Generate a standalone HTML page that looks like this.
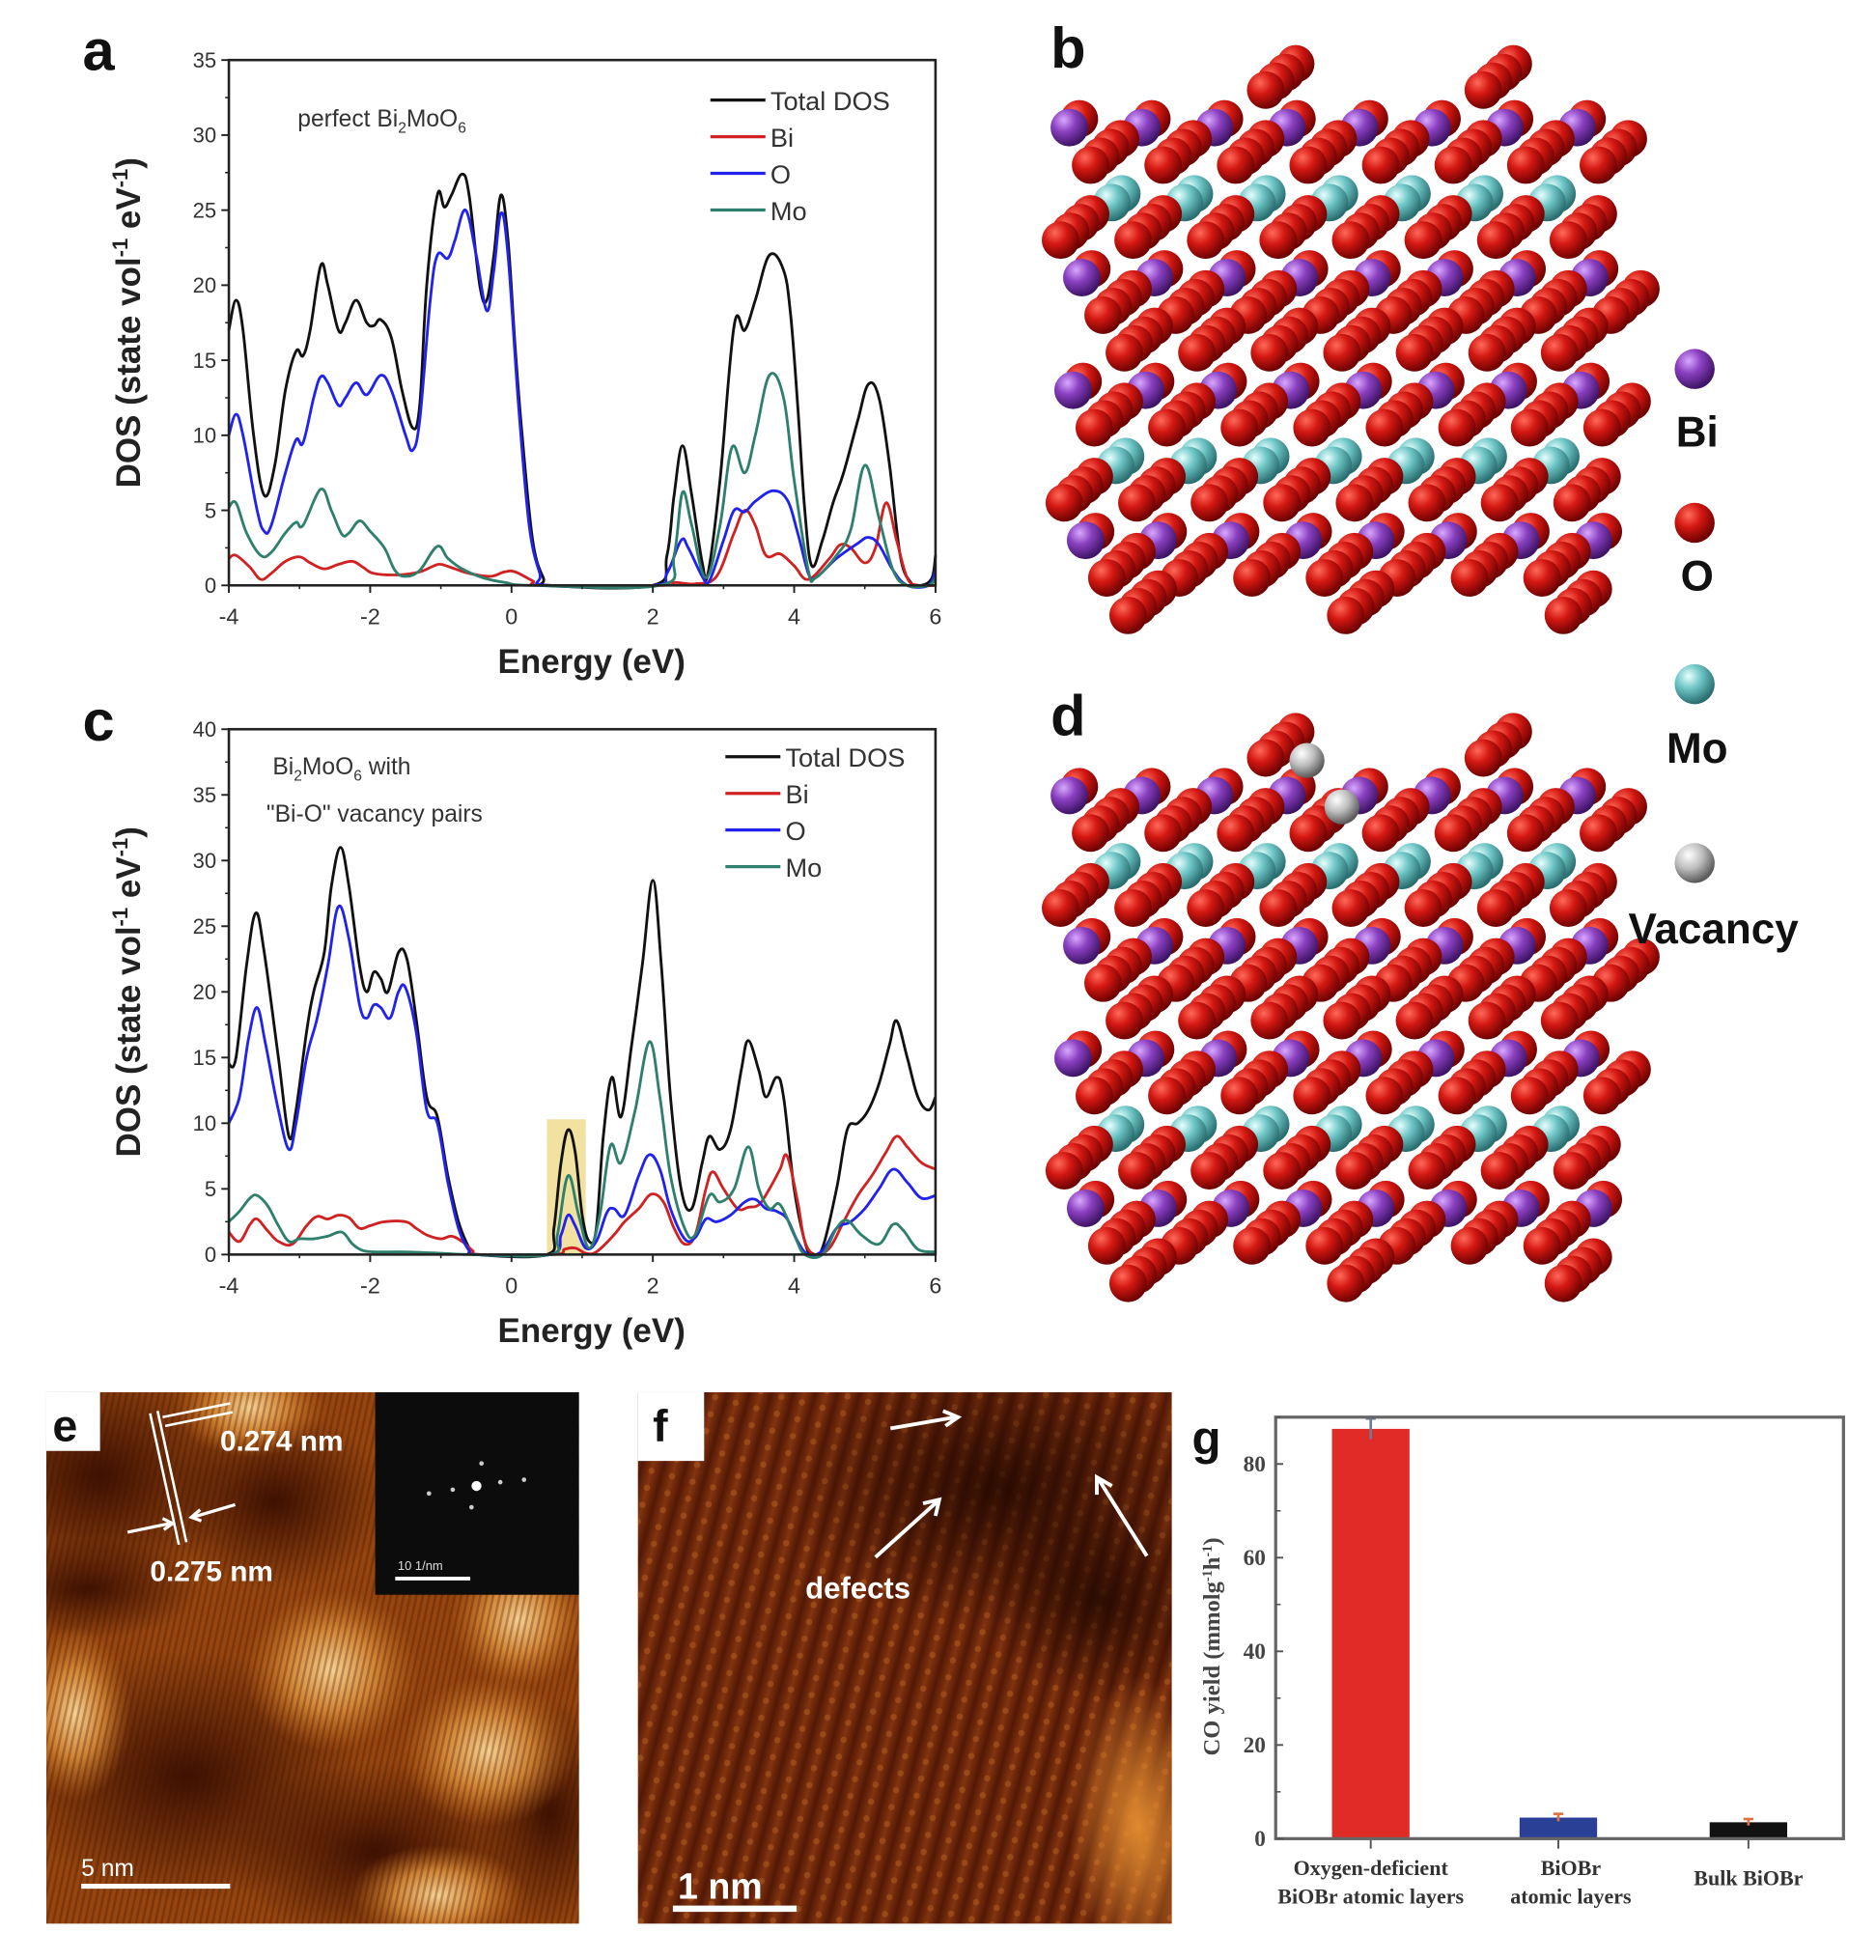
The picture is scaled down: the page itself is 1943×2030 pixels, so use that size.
<!DOCTYPE html>
<html><head><meta charset="utf-8"><style>
html,body{margin:0;padding:0;background:#fff;}
svg{display:block;}
</style></head><body>
<svg id="root" xmlns="http://www.w3.org/2000/svg" width="1943" height="2030" viewBox="0 0 1500 1567" preserveAspectRatio="none" font-family="Liberation Sans, sans-serif">
<defs>
<radialGradient id="gO" cx="35%" cy="30%" r="70%"><stop offset="0" stop-color="#ff6a5a"/><stop offset="0.45" stop-color="#d41812"/><stop offset="1" stop-color="#6e0202"/></radialGradient>
<radialGradient id="gBi" cx="35%" cy="30%" r="70%"><stop offset="0" stop-color="#d9a8ff"/><stop offset="0.45" stop-color="#8a40c0"/><stop offset="1" stop-color="#3f1466"/></radialGradient>
<radialGradient id="gMo" cx="35%" cy="30%" r="70%"><stop offset="0" stop-color="#e8ffff"/><stop offset="0.45" stop-color="#6fc6c6"/><stop offset="1" stop-color="#2a6e70"/></radialGradient>
<radialGradient id="gV" cx="35%" cy="30%" r="70%"><stop offset="0" stop-color="#ffffff"/><stop offset="0.5" stop-color="#bdbdbd"/><stop offset="1" stop-color="#5a5a5a"/></radialGradient>
<pattern id="stripesE" width="5" height="5" patternUnits="userSpaceOnUse" patternTransform="rotate(12)"><rect width="2" height="5" fill="rgba(60,20,0,0.3)"/></pattern>
<linearGradient id="stripeGrad" x1="0" x2="1" y1="0" y2="0"><stop offset="0" stop-color="#521805"/><stop offset="0.5" stop-color="#82340f"/><stop offset="1" stop-color="#521805"/></linearGradient>
<pattern id="stripesF" width="17" height="17" patternUnits="userSpaceOnUse" patternTransform="rotate(15)"><rect width="17" height="17" fill="url(#stripeGrad)"/></pattern>
<pattern id="dotsF" width="17" height="14" patternUnits="userSpaceOnUse" patternTransform="rotate(15)"><circle cx="8.5" cy="7" r="2.5" fill="#b05a20" opacity="0.55"/></pattern>
<radialGradient id="blob" cx="50%" cy="50%" r="50%"><stop offset="0" stop-color="#f8d090"/><stop offset="0.5" stop-color="#d98c3a" stop-opacity="0.9"/><stop offset="1" stop-color="#c06a1c" stop-opacity="0"/></radialGradient>
<radialGradient id="dark" cx="50%" cy="50%" r="50%"><stop offset="0" stop-color="#3e1002"/><stop offset="1" stop-color="#3e1002" stop-opacity="0"/></radialGradient>
<radialGradient id="darkF" cx="50%" cy="50%" r="50%"><stop offset="0" stop-color="#1e0600" stop-opacity="0.8"/><stop offset="1" stop-color="#1e0600" stop-opacity="0"/></radialGradient>
<radialGradient id="glowF" cx="50%" cy="50%" r="50%"><stop offset="0" stop-color="#e08a30"/><stop offset="1" stop-color="#e08a30" stop-opacity="0"/></radialGradient>
<clipPath id="clipE"><rect x="37" y="1113" width="426" height="425"/></clipPath>
<clipPath id="clipF"><rect x="510" y="1113" width="427" height="425"/></clipPath>
</defs>
<g id="layer"></g>
</svg>
<script>
// ===== Panel a data (perfect Bi2MoO6) =====
const aTotalE=[-4,-3.9,-3.8,-3.65,-3.5,-3.35,-3.2,-3.05,-2.95,-2.85,-2.7,-2.6,-2.45,-2.35,-2.2,-2.05,-1.95,-1.85,-1.7,-1.55,-1.4,-1.3,-1.2,-1.05,-0.95,-0.85,-0.7,-0.6,-0.45,-0.35,-0.25,-0.15,-0.05,0.05,0.15,0.3,0.45,0.55,2.0,2.2,2.3,2.42,2.55,2.7,2.78,2.95,3.15,3.3,3.45,3.65,3.85,3.95,4.05,4.15,4.25,4.4,4.55,4.7,4.9,5.05,5.2,5.35,5.5,5.65,5.8,5.95,6];
const aTotalV=[17,19,17,10,6,8,13,15.6,15.3,17,21.3,20,17,17.5,19,17.5,17.3,17.7,16.5,13,10.5,12,20,26,25.2,26,27.4,26,20,19,22,26,23,16,10,3,0.5,0,0,2,6,9.3,6,1.5,0.8,7,17.3,17,19,22,21,18,12,5,1.3,3,5.5,7.5,11,13.4,12.5,8,2,0.2,0,0.5,2];
const aBiE=[-4,-3.9,-3.7,-3.55,-3.4,-3.2,-3.0,-2.85,-2.65,-2.45,-2.25,-2.1,-1.95,-1.6,-1.3,-1.1,-1.0,-0.8,-0.6,-0.3,-0.1,0.05,0.3,0.45,2.1,2.3,2.6,2.9,3.15,3.3,3.45,3.6,3.8,4.0,4.2,4.5,4.65,4.8,5.0,5.15,5.3,5.45,5.6,5.75,6];
const aBiV=[1.8,2,1.2,0.4,0.8,1.6,1.9,1.5,1.1,1.4,1.6,1.2,0.8,0.7,0.9,1.3,1.4,1.1,0.8,0.6,0.9,0.9,0.3,0,0,0.2,0.1,0.6,3.5,5,4,2,2.1,1.3,0.4,1.8,2.7,2.5,1.5,2.5,5.5,3,0.5,0,0];
const aOE=[-4,-3.9,-3.8,-3.6,-3.5,-3.4,-3.2,-3.05,-2.95,-2.8,-2.7,-2.6,-2.45,-2.35,-2.2,-2.05,-1.85,-1.7,-1.5,-1.4,-1.3,-1.15,-1.05,-0.9,-0.8,-0.65,-0.5,-0.35,-0.25,-0.15,-0.05,0.1,0.25,0.4,0.5,2.0,2.2,2.4,2.5,2.7,2.8,3.0,3.15,3.3,3.45,3.7,3.9,4.05,4.2,4.3,4.6,4.9,5.05,5.2,5.4,5.6,5.9,6];
const aOV=[10,11.4,10,5,3.6,4,7.5,9.7,9.5,12.5,13.9,13.5,12,12.5,13.5,12.7,14,13,10,9,11,19,22,21.8,23,25,22,18.3,21,24.8,22,12,4,0.8,0,0,0.8,3,2.5,0.6,0.3,3,5,4.9,5.6,6.3,5.7,3.5,0.8,0.5,1.8,2.8,3.2,2.7,1,0,0,1];
const aMoE=[-4,-3.9,-3.75,-3.55,-3.4,-3.2,-3.05,-2.95,-2.7,-2.55,-2.4,-2.3,-2.15,-2.0,-1.8,-1.65,-1.5,-1.3,-1.05,-0.9,-0.7,-0.4,-0.1,0.3,2.1,2.3,2.42,2.55,2.75,2.95,3.12,3.3,3.45,3.65,3.85,4.0,4.2,4.3,4.6,4.8,5.0,5.2,5.4,5.6,5.9,6];
const aMoV=[5.2,5.5,3.5,2,2.2,3.5,4.2,4,6.4,5,3.4,3.5,4.3,3.6,2.5,1,0.6,1,2.6,1.8,1.1,0.5,0.2,0,0,2,6.2,4,0.5,4,9.2,7.5,10,14,12.5,7,1,0.5,2,3.7,8,4.5,1,0,0,0.5];
const aYTicks=[0,5,10,15,20,25,30,35];
const xTicks=[-4,-2,0,2,4,6];
// ===== Panel c data (with Bi-O vacancy pairs) =====
const cTotalE=[-4,-3.9,-3.75,-3.62,-3.5,-3.3,-3.15,-3.05,-2.9,-2.8,-2.65,-2.55,-2.42,-2.3,-2.15,-2.05,-1.95,-1.85,-1.75,-1.6,-1.48,-1.35,-1.2,-1.05,-0.9,-0.75,-0.6,-0.5,0.5,0.6,0.7,0.8,0.9,1.0,1.1,1.2,1.3,1.42,1.55,1.7,1.85,2.0,2.12,2.25,2.4,2.55,2.7,2.8,2.95,3.1,3.25,3.35,3.5,3.6,3.75,3.85,4.0,4.15,4.25,4.4,4.6,4.75,4.9,5.05,5.2,5.35,5.45,5.6,5.75,5.9,6.0];
const cTotalV=[14.5,15,22,26,23,15,9,11,17,20,23,28,31,28,22,20,21.5,21,20,23,22.5,18,12,10.5,6,2.5,0.5,0,0,2,7,9.5,7.8,3,1,2,9,13.5,10.5,16,22,28.5,22,12,5,3.5,7,9,8,9.5,14,16.3,14,12,13.5,12,5,1,0,0.5,5,9.5,10,11,13,16,17.8,15,12,11,12];
const cBiE=[-4,-3.85,-3.7,-3.6,-3.45,-3.3,-3.1,-2.9,-2.75,-2.6,-2.45,-2.3,-2.15,-2.0,-1.8,-1.5,-1.35,-1.2,-1.0,-0.85,-0.7,-0.55,-0.45,0.6,0.75,0.9,1.05,1.2,1.45,1.6,1.8,1.98,2.15,2.3,2.45,2.6,2.75,2.85,3.0,3.2,3.35,3.5,3.65,3.8,3.9,4.05,4.15,4.3,4.5,4.7,4.9,5.1,5.3,5.45,5.6,5.8,6];
const cBiV=[1.7,1,2.3,2.7,1.8,1,0.8,2.2,2.9,2.7,3,2.8,2,2.2,2.5,2.5,2,1.5,1.2,1.4,1,0.3,0,0,0.4,0.5,0.1,0.2,1.5,2.5,3.5,4.6,4,2,0.8,1.5,5,6.3,5,3.5,3.6,3.8,5,6.5,7.5,4,1,0,0.5,2.5,4.5,6,7.8,9,8.2,7,6.5];
const cOE=[-4,-3.85,-3.72,-3.6,-3.48,-3.3,-3.15,-3.05,-2.9,-2.75,-2.6,-2.45,-2.3,-2.15,-2.05,-1.95,-1.85,-1.72,-1.6,-1.5,-1.35,-1.2,-1.05,-0.9,-0.75,-0.6,-0.5,0.55,0.7,0.8,0.9,1.05,1.2,1.35,1.45,1.6,1.8,1.95,2.1,2.25,2.45,2.6,2.75,2.9,3.1,3.3,3.45,3.6,3.75,3.9,4.05,4.2,4.4,4.6,4.8,5.0,5.2,5.4,5.6,5.8,6];
const cOV=[10,12,16.5,18.8,16,11,8,10,15,18,22,26.5,24,19,18,19,18.8,18,20,20.3,17,11,10,5.5,2,0.3,0,0,1.5,3,2.2,0.5,1,3.2,3.5,3,6,7.6,6.5,3.5,1.2,1.3,2.7,2.5,3,4,4.2,3.5,3.3,2.7,1,0,0.3,2,2.5,3.5,5,6.5,5.5,4.3,4.5];
const cMoE=[-4,-3.85,-3.7,-3.6,-3.45,-3.3,-3.15,-3.0,-2.8,-2.6,-2.4,-2.25,-2.1,-1.9,-1.5,-1.0,-0.6,0.55,0.65,0.8,0.95,1.1,1.25,1.4,1.55,1.75,1.95,2.1,2.25,2.45,2.6,2.8,2.95,3.15,3.35,3.5,3.65,3.8,4.0,4.15,4.4,4.6,4.75,4.95,5.2,5.4,5.55,5.75,6];
const cMoV=[2.5,3.3,4.3,4.5,3.7,2.2,1,1.2,1.2,1.4,1.7,0.8,0.3,0.2,0.2,0.1,0,0,1.5,6,3,0.5,3,8.3,7,11,16.2,12,6,2,1.5,4.5,4,5,8.2,5,3.5,3.8,1.5,0,0,2,2.6,1.5,0.8,2.3,1.8,0.4,0.2];
const cYTicks=[0,5,10,15,20,25,30,35,40];
// ===== Panel g data =====
const gCategories=[["Oxygen-deficient","BiOBr atomic layers"],["BiOBr","atomic layers"],["Bulk BiOBr"]];
const gValues=[87.5,4.5,3.5];
const gErrors=[2.2,0.8,0.7];
const gColors=["#e02b26","#2a3f96","#111111"];
const gYTicks=[0,20,40,60,80];

const NS="http://www.w3.org/2000/svg";
const layer=document.getElementById('layer');
function mk(tag,attrs,parent,txt){const e=document.createElementNS(NS,tag);for(const k in attrs)e.setAttribute(k,attrs[k]);if(txt!==undefined)e.textContent=txt;(parent||layer).appendChild(e);return e;}
function smooth(pts){let d='M'+pts[0][0].toFixed(1)+','+pts[0][1].toFixed(1);for(let i=0;i<pts.length-1;i++){const p0=pts[Math.max(0,i-1)],p1=pts[i],p2=pts[i+1],p3=pts[Math.min(pts.length-1,i+2)];const t=0.18;d+=' C'+(p1[0]+(p2[0]-p0[0])*t).toFixed(1)+','+(p1[1]+(p2[1]-p0[1])*t).toFixed(1)+' '+(p2[0]-(p3[0]-p1[0])*t).toFixed(1)+','+(p2[1]-(p3[1]-p1[1])*t).toFixed(1)+' '+p2[0].toFixed(1)+','+p2[1].toFixed(1);}return d;}

function dosPanel(cfg){
  const g=mk('g',{});
  
  
  const L=183,R=748,T=cfg.top,B=cfg.bottom;
  const xs=e=>L+(e+4)/10*(R-L);
  const ys=v=>B-v/cfg.ymax*(B-T);
  if(cfg.highlight){const h=mk('rect',{x:xs(0.5),y:ys(10.3),width:xs(1.05)-xs(0.5),height:B-ys(10.3),fill:'#eedd90',opacity:0.85},g);
    
    }
  const series=cfg.series;
  series.forEach(s=>{const p=mk('path',{d:smooth(s.e.map((e,i)=>[xs(e),ys(s.v[i])])),fill:'none',stroke:s.c,'stroke-width':2.2,'stroke-linejoin':'round'},g);
    
    });
  const box=mk('rect',{x:L,y:T,width:R-L,height:B-T,fill:'none',stroke:'#222','stroke-width':2},g);
  
  
  cfg.yt.forEach(v=>{mk('line',{x1:L-6,x2:L,y1:ys(v),y2:ys(v),stroke:'#222','stroke-width':1.5},g);
    if(v<cfg.ymax)mk('line',{x1:L-3,x2:L,y1:ys(v+2.5),y2:ys(v+2.5),stroke:'#222','stroke-width':1.2},g);
    const t=mk('text',{x:L-10,y:ys(v)+6,'text-anchor':'end','font-size':17,fill:'#333'},g,String(v));
    
    });
  xTicks.forEach(v=>{mk('line',{x1:xs(v),x2:xs(v),y1:B,y2:B+6,stroke:'#222','stroke-width':1.5},g);
    if(v<6)mk('line',{x1:xs(v+1),x2:xs(v+1),y1:B,y2:B+3,stroke:'#222','stroke-width':1.2},g);
    const t=mk('text',{x:xs(v),y:B+31,'text-anchor':'middle','font-size':18,fill:'#333'},g,String(v));
    
    });
  const xt=mk('text',{x:473,y:B+70,'text-anchor':'middle','font-size':27,'font-weight':'bold',fill:'#222'},g,'Energy (eV)');
  
  
  const yt=mk('text',{x:0,y:0,transform:'translate(112,'+((T+B)/2)+') rotate(-90)','text-anchor':'middle','font-size':27,'font-weight':'bold',fill:'#222'},g);
  
  
  yt.innerHTML='DOS (state vol<tspan dy="-10" font-size="17">-1</tspan><tspan dy="10"> eV</tspan><tspan dy="-10" font-size="17">-1</tspan><tspan dy="10">)</tspan>';
  const lab=mk('text',{x:cfg.labx,y:cfg.laby,'font-size':46,'font-weight':'bold',fill:'#111'},g,cfg.letter);
  
  
  series.forEach((s,i)=>{const y=cfg.legY+i*29.3;
    mk('line',{x1:cfg.legX,x2:cfg.legX+44,y1:y,y2:y,stroke:s.c,'stroke-width':2.5},g);
    const t=mk('text',{x:cfg.legX+48,y:y+8,'font-size':21,fill:'#333'},g,s.n);
    
    });
  return {g,xs,ys};
}
const A=dosPanel({name:'dos-chart-a',letter:'a',labx:66,laby:56,top:48,bottom:468,ymax:35,yt:aYTicks,legX:568,legY:80,
  series:[{n:'Total DOS',c:'#111',e:aTotalE,v:aTotalV},{n:'Bi',c:'#d02222',e:aBiE,v:aBiV},{n:'O',c:'#2222ee',e:aOE,v:aOV},{n:'Mo',c:'#2e7f6c',e:aMoE,v:aMoV}]});
const an=mk('text',{x:238,y:101,'font-size':19,fill:'#333'},A.g);


an.innerHTML='perfect Bi<tspan dy="5" font-size="12">2</tspan><tspan dy="-5">MoO</tspan><tspan dy="5" font-size="12">6</tspan>';
const C=dosPanel({name:'dos-chart-c',letter:'c',labx:66,laby:592,top:583,bottom:1003,ymax:40,yt:cYTicks,legX:580,legY:605,highlight:true,
  series:[{n:'Total DOS',c:'#111',e:cTotalE,v:cTotalV},{n:'Bi',c:'#d02222',e:cBiE,v:cBiV},{n:'O',c:'#2222ee',e:cOE,v:cOV},{n:'Mo',c:'#2e7f6c',e:cMoE,v:cMoV}]});
const cn=mk('text',{x:218,y:619,'font-size':19,fill:'#333'},C.g);


cn.innerHTML='Bi<tspan dy="5" font-size="12">2</tspan><tspan dy="-5">MoO</tspan><tspan dy="5" font-size="12">6</tspan><tspan dy="-5"> with</tspan>';
const cn2=mk('text',{x:213,y:657,'font-size':19,fill:'#333'},C.g,'"Bi-O" vacancy pairs');



// ===== Crystal structures b, d =====
function crystal(name,x0,y0,letter,vac){
  const g=mk('g',{});
  
  
  const rows=['O','Bi','O','Mo','O','Bi','O','O','Bi','O','Mo','O','Bi','O','O'];
  const cols=8, stepX=58, stepY=30;
  for(let r=0;r<rows.length;r++){
    for(let c=0;c<cols;c++){
      const bx=x0+c*stepX+((r*17)%58)-10, by=y0+r*stepY+10;
      if(bx<x0-5||bx>x0+440) continue;
      if(r===0 && c%3!==0) continue;
      if(r===14 && c%3!==1) continue;
      const t=rows[r];
      const n=(t==='O')?4:2;
      for(let k=n-1;k>=0;k--){
        const cx=bx+k*8, cy=by-k*7;
        const col=(t==='Bi'&&k>0)?'O':t;
        mk('circle',{cx:cx,cy:cy,r:15,fill:'url(#g'+col+')'},g);
      }
    }
  }
  if(vac){vac.forEach(p=>mk('circle',{cx:p[0],cy:p[1],r:14,fill:'url(#gV)'},g));}
  const lab=mk('text',{x:x0-8,y:y0-8,'font-size':46,'font-weight':'bold',fill:'#111'},g,letter);
  
  
}
crystal('crystal-structure-b',848,62,'b',null);
crystal('crystal-structure-d',848,596,'d',[[1045,608],[1073,645]]);
const elemLegend=[['Bi','gBi',295,345],['O','gO',418,460],['Mo','gMo',547,598],['Vacancy','gV',690,742]];
elemLegend.forEach(l=>{const c=mk('circle',{cx:1355,cy:l[2],r:16,fill:'url(#'+l[1]+')'});
  
  
  const t=mk('text',{x:l[0]==='Vacancy'?1370:1357,y:l[3]+12,'text-anchor':'middle','font-size':34,'font-weight':'bold',fill:'#111'},null,l[0]);
  
  });

// ===== Panel e (HRTEM) =====
(function(){
  const g=mk('g',{'clip-path':'url(#clipE)'});
  
  
  mk('rect',{x:37,y:1113,width:426,height:425,fill:'#96450f'},g);
  [[80,1180,110,90],[150,1420,140,100],[300,1480,120,70],[440,1450,60,90],[220,1200,90,70],[70,1270,90,40]].forEach(b=>mk('ellipse',{cx:b[0],cy:b[1],rx:b[2],ry:b[3],fill:'url(#dark)'},g));
  [[60,1370,45,70],[265,1335,70,65],[415,1295,55,55],[390,1400,70,60],[200,1125,60,40],[350,1515,70,40]].forEach(b=>mk('ellipse',{cx:b[0],cy:b[1],rx:b[2],ry:b[3],fill:'url(#blob)'},g));
  mk('rect',{x:37,y:1113,width:426,height:425,fill:'url(#stripesE)'},g);
  const ins=mk('rect',{x:300,y:1113,width:163,height:162,fill:'#0c0c0c'},g);
  
  
  mk('circle',{cx:381,cy:1188,r:4,fill:'#fff'},g);
  [[362,1191],[400,1185],[343,1194],[419,1183],[385,1170],[377,1205]].forEach(p=>mk('circle',{cx:p[0],cy:p[1],r:1.8,fill:'#ccc'},g));
  mk('line',{x1:316,x2:376,y1:1262,y2:1262,stroke:'#fff','stroke-width':3},g);
  mk('text',{x:318,y:1255,'font-size':10,fill:'#ddd'},g,'10 1/nm');
  mk('rect',{x:37,y:1113,width:43,height:47,fill:'#fff'},g);
  const el=mk('text',{x:42,y:1152,'font-size':36,'font-weight':'bold',fill:'#111'},g,'e');
  
  
  mk('path',{d:'M120,1130 L143,1235 M126,1128 L149,1233 M130,1133 L184,1122 M132,1140 L186,1129',stroke:'#fff','stroke-width':2,fill:'none'},g);
  mk('path',{d:'M102,1225 L136,1218 M130,1214 L138,1218 L131,1223 M188,1203 L154,1213 M160,1207 L153,1213 L161,1216',stroke:'#fff','stroke-width':2.5,fill:'none'},g);
  const t1=mk('text',{x:176,y:1160,'font-size':23,'font-weight':'bold',fill:'#fff'},g,'0.274 nm');
  
  
  const t2=mk('text',{x:120,y:1264,'font-size':23,'font-weight':'bold',fill:'#fff'},g,'0.275 nm');
  
  
  mk('line',{x1:65,x2:184,y1:1508,y2:1508,stroke:'#fff','stroke-width':4},g);
  const sb=mk('text',{x:65,y:1500,'font-size':19,fill:'#fff'},g,'5  nm');
  
  
})();
// ===== Panel f =====
(function(){
  const g=mk('g',{'clip-path':'url(#clipF)'});
  
  
  mk('rect',{x:510,y:1113,width:427,height:425,fill:'url(#stripesF)'},g);
  mk('rect',{x:510,y:1113,width:427,height:425,fill:'url(#dotsF)'},g);
  mk('ellipse',{cx:800,cy:1190,rx:170,ry:110,fill:'url(#darkF)'},g);
  mk('ellipse',{cx:880,cy:1280,rx:90,ry:80,fill:'url(#darkF)'},g);
  mk('ellipse',{cx:910,cy:1460,rx:55,ry:120,fill:'url(#glowF)'},g);
  mk('rect',{x:510,y:1113,width:53,height:55,fill:'#fff'},g);
  const fl=mk('text',{x:522,y:1152,'font-size':36,'font-weight':'bold',fill:'#111'},g,'f');
  
  
  mk('path',{d:'M712,1142 L764,1133 M754,1128 L766,1133 L756,1140 M700,1245 L750,1200 M738,1202 L751,1199 L748,1212 M917,1244 L878,1182 M877,1195 L877,1181 L889,1188',stroke:'#fff','stroke-width':3,fill:'none'},g);
  const df=mk('text',{x:686,y:1278,'text-anchor':'middle','font-size':24,'font-weight':'bold',fill:'#fff'},g,'defects');
  
  
  mk('line',{x1:538,x2:637,y1:1526,y2:1526,stroke:'#fff','stroke-width':5},g);
  const sb=mk('text',{x:542,y:1518,'font-size':29,'font-weight':'bold',fill:'#fff'},g,'1 nm');
  
  
})();
// ===== Panel g bar chart =====
(function(){
  const g=mk('g',{});
  
  
  const L=1020,R=1474,T=1133,B=1470,ymax=90;
  const ys=v=>B-v/ymax*(B-T);
  const centers=[1096,1246,1398];
  const bw=62;
  gValues.forEach((v,i)=>{const b=mk('rect',{x:centers[i]-bw/2,y:ys(v),width:bw,height:B-ys(v),fill:gColors[i]},g);
    
    
    const ec=i===0?'#6a7aa0':'#e07040';
    mk('line',{x1:centers[i],x2:centers[i],y1:ys(v+gErrors[i]),y2:ys(v-gErrors[i]),stroke:ec,'stroke-width':2},g);
    mk('line',{x1:centers[i]-4,x2:centers[i]+4,y1:ys(v+gErrors[i]),y2:ys(v+gErrors[i]),stroke:ec,'stroke-width':2},g);
    mk('line',{x1:centers[i],x2:centers[i],y1:B,y2:B+8,stroke:'#555','stroke-width':1.5},g);
    gCategories[i].forEach((ln,j)=>{const t=mk('text',{x:centers[i]+(i===1?10:0),y:B+(i===2?37:29)+j*23,'text-anchor':'middle','font-size':17,'font-weight':'bold','font-family':'Liberation Serif, serif',fill:'#333'},g,ln);
      
      });
  });
  const fr=mk('rect',{x:L,y:T,width:R-L,height:B-T,fill:'none',stroke:'#666','stroke-width':2.5},g);
  
  
  gYTicks.forEach(v=>{mk('line',{x1:L,x2:L+6,y1:ys(v),y2:ys(v),stroke:'#555','stroke-width':1.5},g);
    mk('line',{x1:L,x2:L+4,y1:ys(v+10),y2:ys(v+10),stroke:'#555','stroke-width':1.2},g);
    const t=mk('text',{x:L-8,y:ys(v)+6,'text-anchor':'end','font-size':18,'font-weight':'bold','font-family':'Liberation Serif, serif',fill:'#444'},g,String(v));
    
    });
  const yt=mk('text',{x:0,y:0,transform:'translate(975,'+((T+B)/2+15)+') rotate(-90)','text-anchor':'middle','font-size':19,'font-weight':'bold','font-family':'Liberation Serif, serif',fill:'#444'},g);
  
  
  yt.innerHTML='CO yield (mmolg<tspan dy="-6" font-size="11">-1</tspan><tspan dy="6">h</tspan><tspan dy="-6" font-size="11">-1</tspan><tspan dy="6">)</tspan>';
  const gl=mk('text',{x:953,y:1163,'font-size':38,'font-weight':'bold',fill:'#111'},g,'g');
  
  
})();
</script>
</body></html>
